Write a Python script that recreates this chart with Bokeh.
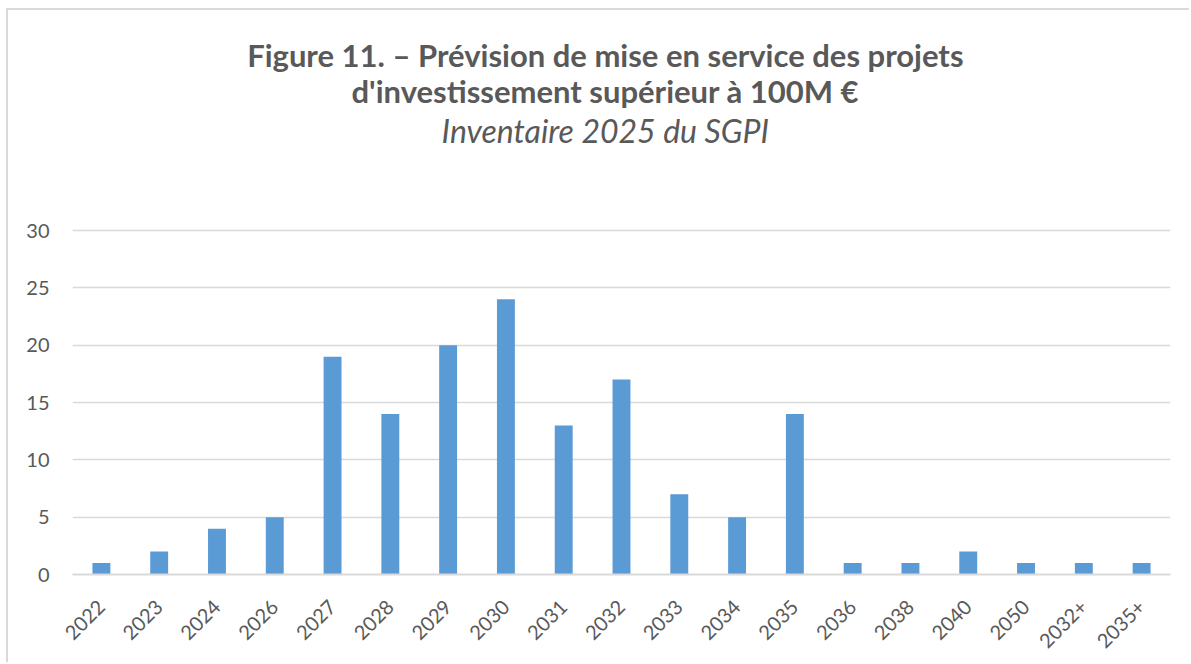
from bokeh.plotting import figure
from bokeh.models import FixedTicker, Range1d
from bokeh.core.properties import value
from bokeh.embed import file_html
from bokeh.resources import INLINE

categories = ["2022", "2023", "2024", "2026", "2027", "2028", "2029", "2030", "2031",
              "2032", "2033", "2034", "2035", "2036", "2038", "2040", "2050", "2032+", "2035+"]
values = [1, 2, 4, 5, 19, 14, 20, 24, 13, 17, 7, 5, 14, 1, 1, 2, 1, 1, 1]
y_ticks = [0, 5, 10, 15, 20, 25, 30]

title_1 = "Figure 11. – Prévision de mise en service des projets"
title_2 = "d'investissement supérieur à 100M €"
subtitle = "Inventaire 2025 du SGPI"

TXT = "#595959"
GRID = "#d9d9d9"
FONT = "Lato"

# frame is extended upward (blank, no grid above 30) so the titles can sit inside it
Y_TOP = 49.19

p = figure(x_range=categories, y_range=Range1d(0, Y_TOP), width=1183, height=654,
           output_backend="svg", toolbar_location=None,
           min_border_left=64, min_border_right=21, min_border_top=0, min_border_bottom=90)
p.styles = {"margin-left": "6px", "margin-top": "8px",
            "border-left": "2px solid #d9d9d9", "border-top": "2px solid #d9d9d9"}

p.vbar(x=categories, top=values, width=0.31, fill_color="#5B9BD5", line_color=None)

p.outline_line_color = None
p.background_fill_color = "white"
p.border_fill_color = "white"

p.xgrid.grid_line_color = None
p.ygrid.grid_line_color = GRID
p.ygrid.grid_line_width = 1.5
p.ygrid.ticker = FixedTicker(ticks=y_ticks)

p.yaxis.ticker = FixedTicker(ticks=y_ticks)
p.yaxis.axis_line_color = None
p.yaxis.major_tick_line_color = None
p.yaxis.minor_tick_line_color = None
p.yaxis.major_tick_out = 0
p.yaxis.major_tick_in = 0
p.yaxis.major_label_text_font = FONT
p.yaxis.major_label_text_font_size = "20px"
p.yaxis.major_label_text_color = TXT
p.yaxis.major_label_standoff = 23

p.xaxis.axis_line_color = GRID
p.xaxis.axis_line_width = 2
p.xaxis.major_tick_line_color = None
p.xaxis.minor_tick_line_color = None
p.xaxis.major_tick_out = 0
p.xaxis.major_tick_in = 0
p.xaxis.major_label_orientation = 0.785398
p.xaxis.major_label_text_font = FONT
p.xaxis.major_label_text_font_size = "20px"
p.xaxis.major_label_text_color = TXT
p.xaxis.major_label_standoff = 29

title_x = 9.22
p.text(x=[title_x, title_x], y=[45.35, 42.15], text=[title_1, title_2],
       text_align="center", text_baseline="alphabetic", text_font=value(FONT),
       text_font_style="bold", text_font_size="31px", text_color=TXT)
p.text(x=[title_x], y=[38.75], text=[subtitle],
       text_align="center", text_baseline="alphabetic", text_font=value(FONT),
       text_font_style="italic", text_font_size="32px", text_color=TXT)

open("out.html", "w").write(file_html(p, INLINE))
